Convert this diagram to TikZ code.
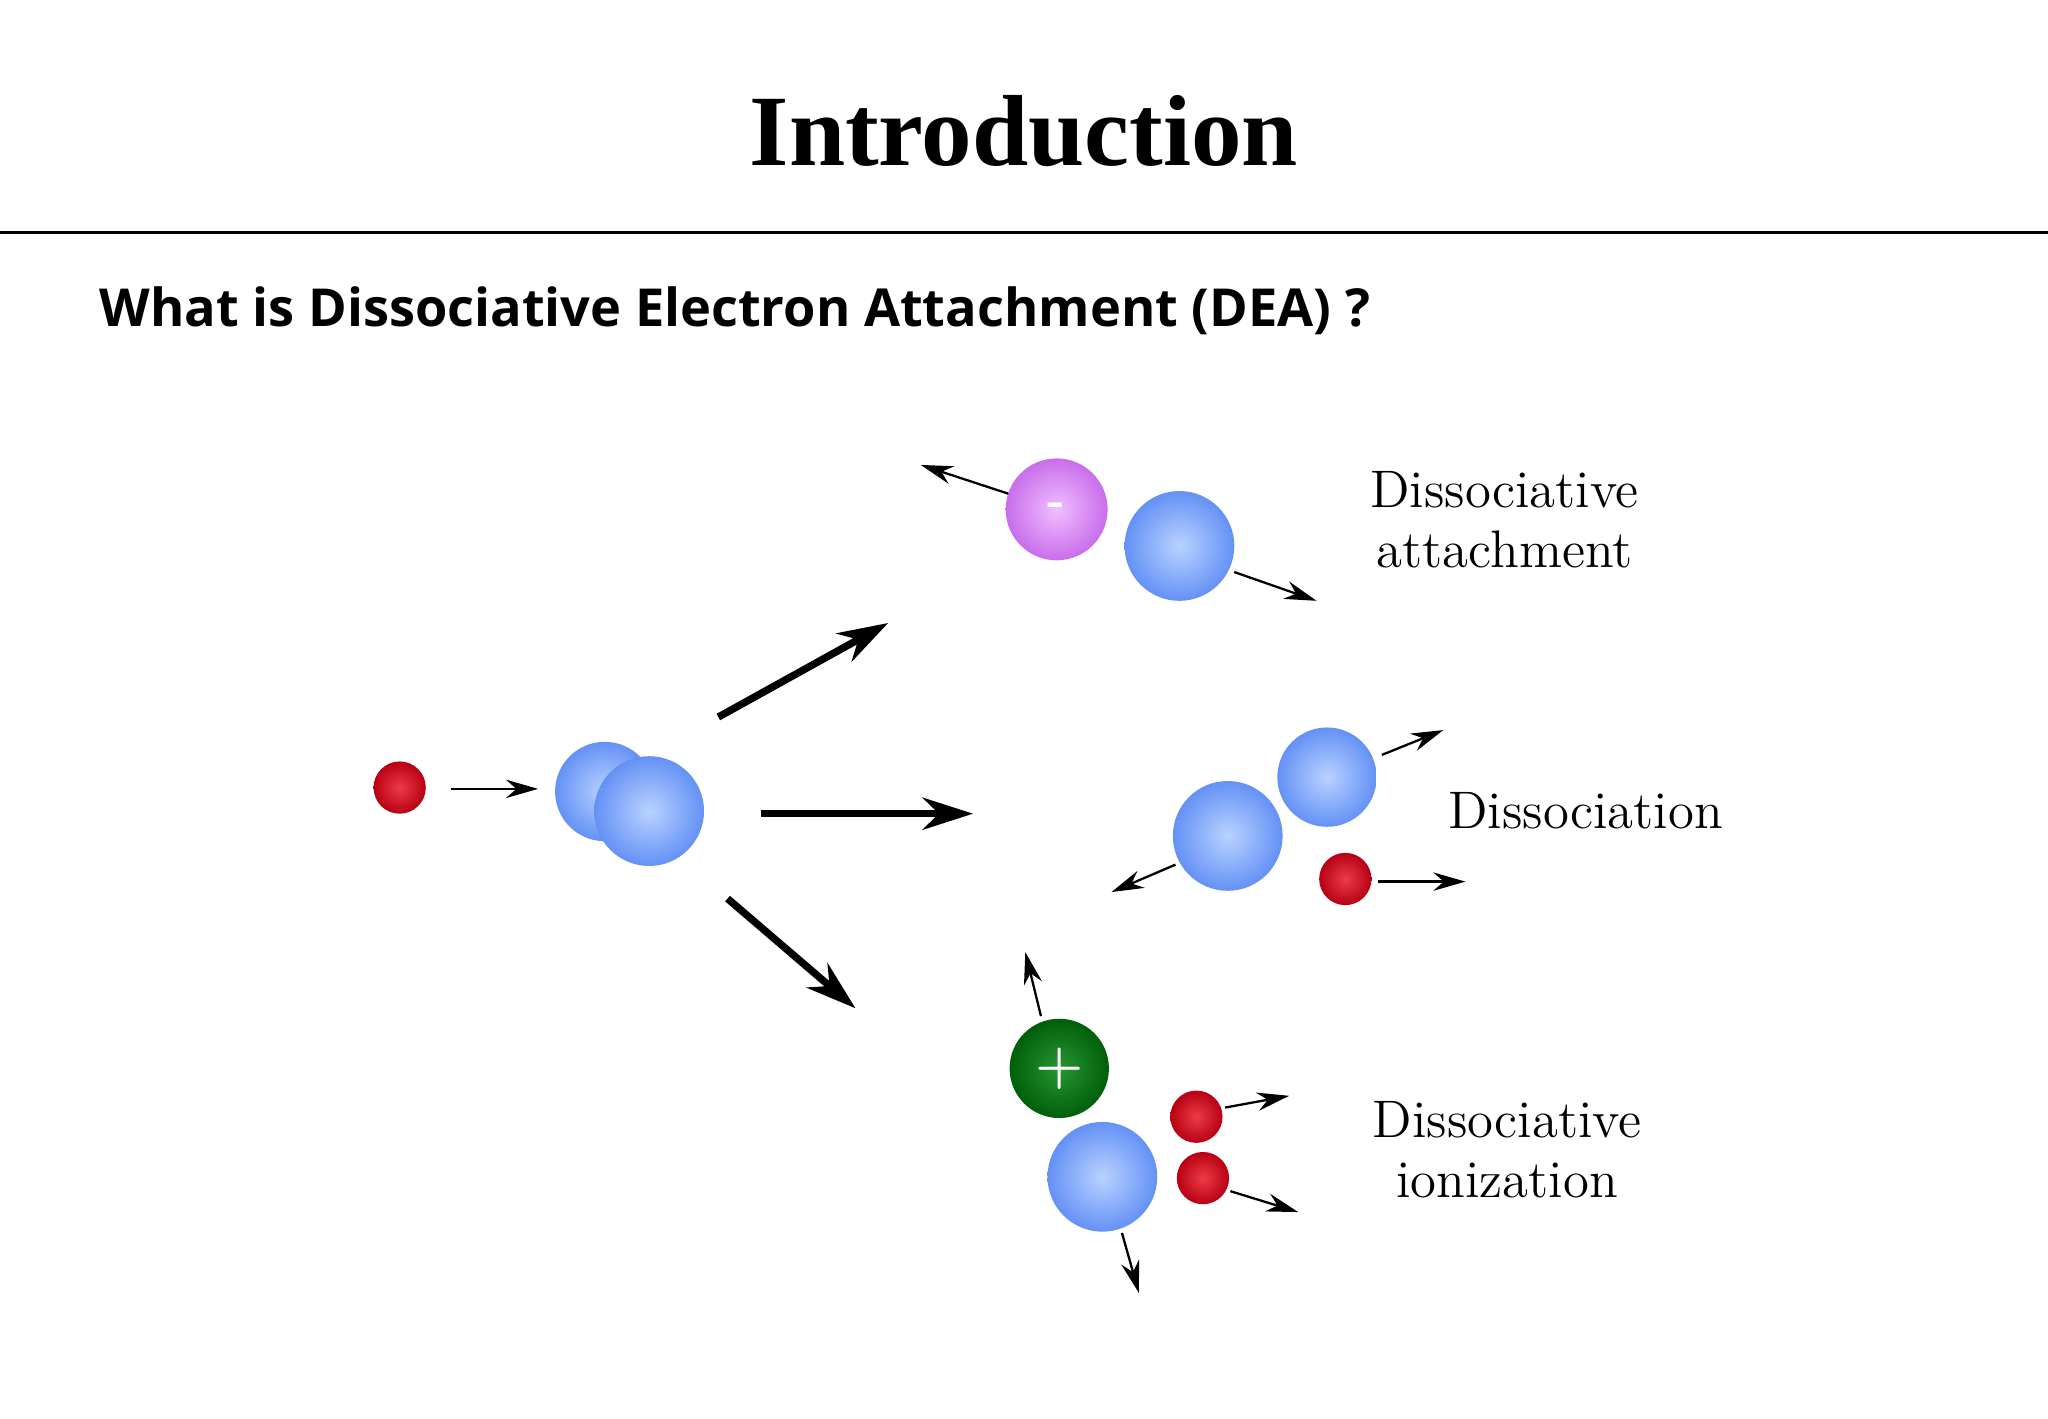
\documentclass[tikz,border=0pt]{standalone}
\usepackage{fontspec}
\setmainfont{Latin Modern Roman}
\newfontfamily\titlef{Liberation Serif}
\newfontfamily\subf{Open Sans}
\usetikzlibrary{arrows.meta}
\definecolor{bl}{RGB}{100,145,245}
\definecolor{bli}{RGB}{185,210,255}
\definecolor{rd}{RGB}{185,0,20}
\definecolor{rdi}{RGB}{235,60,70}
\definecolor{pu}{RGB}{200,110,235}
\definecolor{pui}{RGB}{240,190,255}
\definecolor{gr}{RGB}{0,95,10}
\definecolor{gri}{RGB}{40,150,50}
\begin{document}
\begin{tikzpicture}[x=0.01cm,y=-0.01cm,
  blue ball/.style={circle,inner sep=0pt,minimum size=0.84cm,inner color=bli,outer color=bl,draw=none},
  blue sm/.style={blue ball,minimum size=0.76cm},
  red ball/.style={circle,inner sep=0pt,minimum size=0.40cm,inner color=rdi,outer color=rd,draw=none},
  thin arr/.style={-{Stealth[length=7pt,width=4pt]},line width=0.5pt},
  thick arr/.style={-{Stealth[length=11pt,width=7pt]},line width=1.6pt},
  lbl/.style={font=\fontsize{11.5}{13}\selectfont,align=center}]
\useasboundingbox (0,0) rectangle (1568,1086);
\node[font=\titlef\bfseries\fontsize{22}{26}\selectfont] (title) at (784,100) {Introduction};
\draw[line width=0.8pt] (0,178) -- (1568,178);
\node[font=\subf\bfseries\fontsize{11.4}{13}\selectfont,anchor=west] (sub) at (64,238) {What is Dissociative Electron Attachment (DEA) ?};
% reactant
\node[red ball] (e) at (306,603) {};
\coordinate (e1) at (345,604); \coordinate (e2) at (412,604);
\draw[thin arr] (e1) -- (e2);
\node[blue sm] (m1) at (463,606) {};
\node[blue ball] (m2) at (497,621) {};
\coordinate (a1s) at (550,549); \coordinate (a1e) at (680,477);
\coordinate (a2s) at (583,623); \coordinate (a2e) at (745,623);
\coordinate (a3s) at (557,688); \coordinate (a3e) at (655,772);
\draw[thick arr] (a1s) -- (a1e);
\draw[thick arr] (a2s) -- (a2e);
\draw[thick arr] (a3s) -- (a3e);
% attachment
\node[circle,inner sep=0pt,minimum size=0.78cm,inner color=pui,outer color=pu,text=white,font=\bfseries] (neg) at (809,390) {-};
\coordinate (n1) at (772,378); \coordinate (n2) at (705,356);
\draw[thin arr] (n1) -- (n2);
\node[blue ball] (b1) at (903,418) {};
\coordinate (b1a) at (945,438); \coordinate (b1b) at (1008,460);
\draw[thin arr] (b1a) -- (b1b);
\node[lbl] (t1) at (1152,398) {Dissociative\\ attachment};
% dissociation
\node[blue sm] (b2) at (1016,595) {};
\coordinate (b2a) at (1058,578); \coordinate (b2b) at (1105,559);
\draw[thin arr] (b2a) -- (b2b);
\node[blue ball] (b3) at (940,640) {};
\coordinate (b3a) at (900,662); \coordinate (b3b) at (851,683);
\draw[thin arr] (b3a) -- (b3b);
\node[red ball] (r1) at (1030,673) {};
\coordinate (r1a) at (1055,675); \coordinate (r1b) at (1122,675);
\draw[thin arr] (r1a) -- (r1b);
\node[lbl] (t2) at (1214,621) {Dissociation};
% ionization
\node[circle,inner sep=0pt,minimum size=0.76cm,inner color=gri,outer color=gr,text=white,font=\bfseries\large] (pos) at (811,818) {+};
\coordinate (p1) at (797,778); \coordinate (p2) at (785,729);
\draw[thin arr] (p1) -- (p2);
\node[blue ball] (b4) at (844,901) {};
\coordinate (b4a) at (859,944); \coordinate (b4b) at (872,990);
\draw[thin arr] (b4a) -- (b4b);
\node[red ball] (r2) at (916,855) {};
\coordinate (r2a) at (938,848); \coordinate (r2b) at (987,839);
\draw[thin arr] (r2a) -- (r2b);
\node[red ball] (r3) at (921,902) {};
\coordinate (r3a) at (942,912); \coordinate (r3b) at (994,928);
\draw[thin arr] (r3a) -- (r3b);
\node[lbl] (t3) at (1154,880) {Dissociative\\ ionization};
\end{tikzpicture}
\end{document}
